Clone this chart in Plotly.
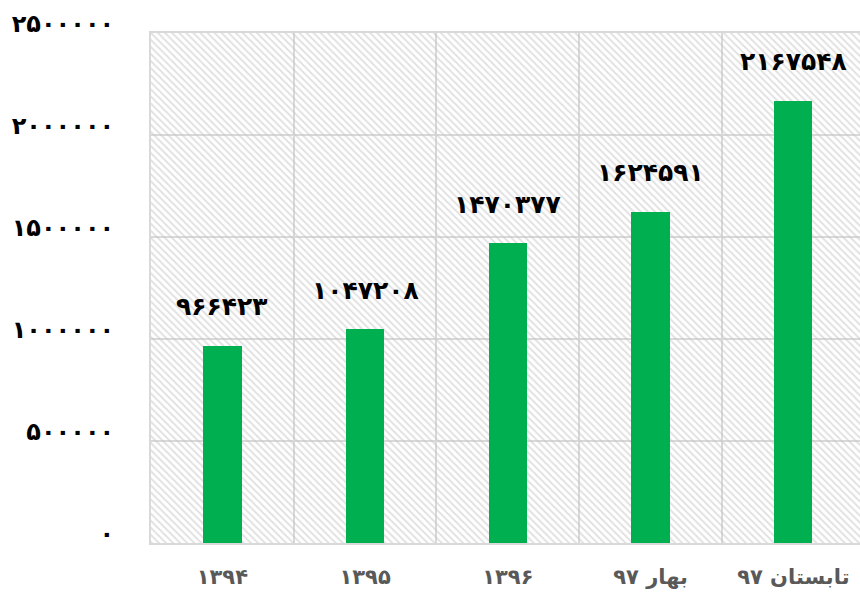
import plotly.graph_objects as go

categories = ["۱۳۹۴", "۱۳۹۵", "۱۳۹۶", "بهار ۹۷", "تابستان ۹۷"]
values = [966423, 1047208, 1470377, 1624591, 2167548]
y_ticks = [0, 500000, 1000000, 1500000, 2000000, 2500000]

PERSIAN = str.maketrans("0123456789", "۰۱۲۳۴۵۶۷۸۹")


def fa(n):
    return str(n).translate(PERSIAN)


x = list(range(len(categories)))
y_max = y_ticks[-1]
grid = "#d9d9d9"
font = "DejaVu Sans"

fig = go.Figure()

# hatched plot-area background
fig.add_trace(go.Bar(
    x=x, y=[y_max] * len(x), width=1,
    marker=dict(color="rgba(0,0,0,0)", line=dict(width=0),
                pattern=dict(shape="\\", size=5, solidity=0.4,
                             fgcolor="#c4c4c4", bgcolor="rgba(0,0,0,0)")),
    hoverinfo="skip", showlegend=False,
))

fig.add_trace(go.Bar(
    x=x, y=values, width=0.268,
    marker=dict(color="#00b050", line=dict(width=0)),
    showlegend=False,
))

for xi, v in zip(x, values):
    fig.add_annotation(
        x=xi, y=v, text=fa(v), showarrow=False, yanchor="middle", yshift=39,
        font=dict(family=font, size=25, color="#000000", weight="bold"),
    )

fig.update_layout(
    width=860, height=592,
    margin=dict(l=151, r=0, t=33, b=49),
    paper_bgcolor="white", plot_bgcolor="white",
    barmode="overlay", bargap=0,
    font=dict(family=font),
)

# the last category runs past the right edge of the page
fig.update_xaxes(
    range=[-0.5, len(x) - 0.533],
    tickvals=x, ticktext=categories,
    tickfont=dict(family=font, size=21, color="#595959", weight="bold"),
    showgrid=False, zeroline=False,
    minor=dict(tick0=0.5, dtick=1, showgrid=True, gridcolor=grid, gridwidth=2),
    showline=True, linecolor=grid, linewidth=2, mirror=True,
    ticks="outside", ticklen=14, tickcolor="rgba(0,0,0,0)",
)

fig.update_yaxes(
    range=[0, y_max],
    tickvals=y_ticks, ticktext=[fa(t) for t in y_ticks],
    tickfont=dict(family=font, size=24, color="#000000", weight="bold"),
    showgrid=True, gridcolor=grid, gridwidth=2, zeroline=False,
    showline=True, linecolor=grid, linewidth=2, mirror=False,
    ticks="outside", ticklen=30, tickcolor="rgba(0,0,0,0)",
    ticklabelshift=-9,
)

fig.write_html("out.html")
